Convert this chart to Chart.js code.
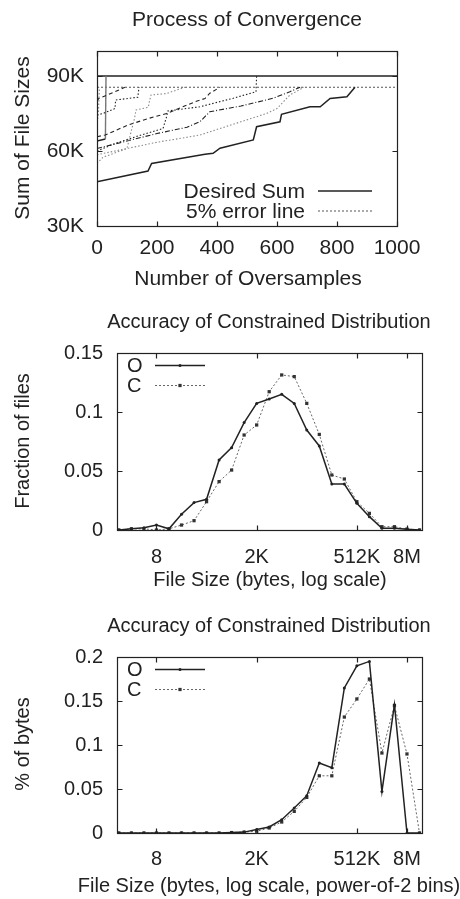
<!DOCTYPE html>
<html>
<head>
<meta charset="utf-8">
<title>Convergence and constrained distribution</title>
<script src="https://cdn.jsdelivr.net/npm/chart.js@4.4.1/dist/chart.umd.min.js"></script>
<style>
  body { margin: 0; background: #fff; width: 460px; height: 899px; overflow: hidden; }
  canvas { position: absolute; left: 0; }
</style>
</head>
<body>
<canvas id="convChart" width="460" height="300" style="top:0"></canvas>
<canvas id="filesChart" width="460" height="300" style="top:300px"></canvas>
<canvas id="bytesChart" width="460" height="299" style="top:600px"></canvas>
<script>
// --- process of convergence: [oversamples, sum of file sizes in K] ---
const desiredSum = 90;
const errorLine = 85.5;
const convTicksY = [30, 60, 90];
const runA = [[0,47.7],[170,52],[182,55],[360,58.7],[387,59.1],[410,61.1],[521,64.4],[532,69.7],[610,71.7],[615,74.7],[710,77.7],[744,77.7],[777,81],[833,81.7],[860,85.5]];
const runB = [[0,64],[28,64.8],[30,90]];
const runC = [[0,65.7],[27,66.4],[104,70.4],[171,73],[232,75],[327,79.7],[360,81],[376,83.1],[410,85.5]];
const runD = [[0,60],[60,63],[150,66.5],[220,69],[232,73.7],[236,76],[343,77.7],[454,81.1],[530,83.7],[532,90]];
const runE = [[0,55],[20,57.5],[100,61],[110,66],[125,73],[130,76.4],[171,77.5],[175,80],[180,82.4],[232,83],[293,85.5]];
const runF = [[0,74.4],[20,75],[60,77],[62,80.4],[136,81.5],[140,85.5]];
const runG = [[0,61],[100,64],[200,67],[300,69.5],[343,71.7],[376,75.7],[480,78],[587,81.1],[643,83.7],[677,85.5]];
const runH = [[0,58.5],[100,61],[200,63.5],[300,65.5],[343,66.4],[410,69],[565,75],[600,77],[643,82.4],[690,85.5]];
const runJ = [[0,80],[6,81],[60,83.7],[93,85.5]];
const runK = [[0,70],[5,76],[8,85.5]];

// --- file size bins (log2 of bytes) ---
const binExp = [0,1,2,3,4,5,6,7,8,9,10,11,12,13,14,15,16,17,18,19,20,21,22,23,24];
const sizeTickExp = [3, 11, 19, 23];
const sizeTickLabels = ['8', '2K', '512K', '8M'];

// fraction of files per bin
const filesO = [0,0.001,0.002,0.0042,0.001,0.0133,0.0232,0.026,0.0593,0.0698,0.091,0.1073,0.111,0.115,0.1073,0.0847,0.0712,0.039,0.039,0.0226,0.0113,0.0014,0.0014,0.0006,0];
const filesC = [0,0.001,0.001,0,0.001,0.0042,0.0079,0.024,0.041,0.0508,0.0805,0.089,0.1172,0.1314,0.13,0.1073,0.081,0.0466,0.0432,0.024,0.0141,0.0028,0.0028,0.0008,0];

// fraction of bytes per bin
const bytesO = [0,0,0,0,0,0,0,0,0,0.0005,0.001,0.004,0.0068,0.0151,0.0284,0.0424,0.0795,0.0742,0.1648,0.19,0.195,0.0473,0.1458,0,0];
const bytesC = [0,0,0,0,0,0,0,0,0,0.0005,0.001,0.002,0.0057,0.0125,0.0246,0.0405,0.065,0.065,0.1318,0.1523,0.175,0.0909,0.1447,0.0898,0];

const ink = '#222';
const grey = '#8a8a8a';
const family = '"Liberation Sans", Arial, sans-serif';
const font1 = '21px ' + family;
const font2 = '20px ' + family;

const pts = arr => arr.map(p => ({ x: p[0], y: p[1] }));
const bins = vals => binExp.map((e, i) => ({ x: e, y: vals[i] }));

// box with inward ticks on all four sides, plus titles and in-plot legend
const gnuplotFrame = {
  id: 'gnuplotFrame',
  afterDatasetsDraw(chart, args, o) {
    const { ctx, chartArea: a, scales: { x, y } } = chart;
    const L = Math.round(a.left) + 0.5, R = Math.round(a.right) + 0.5;
    const T = Math.round(a.top) + 0.5, B = Math.round(a.bottom) + 0.5;
    ctx.save();
    ctx.strokeStyle = ink;
    ctx.lineWidth = 1.2;
    ctx.setLineDash([]);
    ctx.strokeRect(L, T, R - L, B - T);
    ctx.beginPath();
    x.ticks.forEach(t => {
      const px = Math.round(x.getPixelForValue(t.value)) + 0.5;
      ctx.moveTo(px, B); ctx.lineTo(px, B - 5);
      ctx.moveTo(px, T); ctx.lineTo(px, T + 5);
    });
    y.ticks.forEach(t => {
      const py = Math.round(y.getPixelForValue(t.value)) + 0.5;
      ctx.moveTo(L, py); ctx.lineTo(L + 5, py);
      ctx.moveTo(R, py); ctx.lineTo(R - 5, py);
    });
    ctx.stroke();

    ctx.fillStyle = ink;
    ctx.font = o.font;
    ctx.textAlign = 'center';
    ctx.textBaseline = 'alphabetic';
    ctx.fillText(o.title, o.titleAt[0], o.titleAt[1]);
    ctx.fillText(o.xTitle, o.xTitleAt[0], o.xTitleAt[1]);
    ctx.save();
    ctx.translate(o.yTitleAt[0], o.yTitleAt[1]);
    ctx.rotate(-Math.PI / 2);
    ctx.textBaseline = 'middle';
    ctx.fillText(o.yTitle, 0, 0);
    ctx.restore();

    o.legend.forEach(k => {
      const ds = chart.data.datasets[k.index];
      ctx.fillStyle = ink;
      ctx.textAlign = k.align;
      ctx.fillText(ds.label, k.tx, k.ty);
      ctx.beginPath();
      ctx.strokeStyle = ds.borderColor;
      ctx.lineWidth = ds.borderWidth;
      ctx.setLineDash(ds.borderDash || []);
      ctx.moveTo(k.x0, k.ly);
      ctx.lineTo(k.x1, k.ly);
      ctx.stroke();
      if (ds.pointRadius) {
        ctx.setLineDash([]);
        ctx.fillStyle = ds.pointBackgroundColor;
        ctx.strokeStyle = ds.pointBorderColor;
        Chart.helpers.drawPoint(ctx, {
          pointStyle: ds.pointStyle, radius: ds.pointRadius, borderWidth: 0, rotation: 0
        }, (k.x0 + k.x1) / 2, k.ly);
      }
    });
    ctx.restore();
  }
};

function run(data, color, dash, width) {
  return {
    data: pts(data), borderColor: color, borderWidth: width || 1.1,
    borderDash: dash, pointRadius: 0, fill: false
  };
}

new Chart(document.getElementById('convChart'), {
  type: 'line',
  data: {
    datasets: [
      run(runH, grey, [1.5, 2]),
      run(runE, grey, [1.5, 2]),
      run(runK, grey, [1.5, 2]),
      run(runG, ink, [5, 2, 1, 2]),
      run(runD, ink, [1.5, 2]),
      run(runF, ink, [1.5, 2]),
      run(runC, ink, [4, 3]),
      run(runJ, ink, [4, 3]),
      { ...run(runB, ink, [], 1.4), segment: { borderColor: c => c.p1DataIndex === 2 ? '#777' : undefined } },
      run(runA, ink, [], 1.5),
      { label: 'Desired Sum', data: [{ x: 0, y: desiredSum }, { x: 1000, y: desiredSum }],
        borderColor: ink, borderWidth: 1.3, pointRadius: 0 },
      { label: '5% error line', data: [{ x: 0, y: errorLine }, { x: 1000, y: errorLine }],
        borderColor: '#555', borderWidth: 1, borderDash: [2, 2], pointRadius: 0 }
    ]
  },
  options: {
    responsive: false,
    animation: false,
    layout: { padding: { top: 51, right: 63, left: 0, bottom: 0 } },
    scales: {
      x: {
        type: 'linear', min: 0, max: 1000,
        grid: { display: false, drawTicks: false }, border: { display: false },
        ticks: { stepSize: 200, autoSkip: false, maxRotation: 0, padding: 10, color: ink,
                 font: { family, size: 21 }, callback: v => String(v) },
        afterFit: s => { s.height = 74; }
      },
      y: {
        min: 30, max: 100,
        grid: { display: false, drawTicks: false }, border: { display: false },
        afterBuildTicks: s => { s.ticks = convTicksY.map(v => ({ value: v })); },
        ticks: { padding: 13, color: ink, font: { family, size: 21 }, callback: v => v + 'K' },
        afterFit: s => { s.width = 97; }
      }
    },
    plugins: {
      legend: { display: false },
      tooltip: { enabled: false },
      gnuplotFrame: {
        font: font1,
        title: 'Process of Convergence', titleAt: [247, 26],
        xTitle: 'Number of Oversamples', xTitleAt: [248, 285],
        yTitle: 'Sum of File Sizes', yTitleAt: [23, 138],
        legend: [
          { index: 10, align: 'right', tx: 305, ty: 198, x0: 318, x1: 372, ly: 191 },
          { index: 11, align: 'right', tx: 305, ty: 218, x0: 318, x1: 372, ly: 211 }
        ]
      }
    }
  },
  plugins: [gnuplotFrame]
});

function sizeChart(id, o, c, yMax, plotTop, plotBottom, labelPad, yTitle, xTitle, texts) {
  const h = document.getElementById(id).height;
  return new Chart(document.getElementById(id), {
    type: 'line',
    data: {
      datasets: [
        { label: 'O', data: bins(o), borderColor: ink, borderWidth: 1.5,
          pointStyle: 'circle', pointRadius: 1.5, pointBackgroundColor: ink, pointBorderColor: ink, pointBorderWidth: 0 },
        { label: 'C', data: bins(c), borderColor: '#666', borderWidth: 1, borderDash: [2, 2],
          pointStyle: 'rect', pointRadius: 2.3, pointBackgroundColor: '#333', pointBorderColor: '#333', pointBorderWidth: 0 }
      ]
    },
    options: {
      responsive: false,
      animation: false,
      layout: { padding: { top: plotTop, right: 38, left: 0, bottom: 0 } },
      scales: {
        x: {
          type: 'linear', min: -0.15, max: 24.2,
          grid: { display: false, drawTicks: false }, border: { display: false },
          afterBuildTicks: s => { s.ticks = sizeTickExp.map(v => ({ value: v })); },
          ticks: { autoSkip: false, maxRotation: 0, padding: labelPad, color: ink, font: { family, size: 20 },
                   callback: (v, i) => sizeTickLabels[i] },
          afterFit: s => { s.height = h - plotBottom; }
        },
        y: {
          min: 0, max: yMax,
          grid: { display: false, drawTicks: false }, border: { display: false },
          ticks: { stepSize: 0.05, padding: 14, color: ink, font: { family, size: 20 },
                   callback: v => String(+v.toFixed(2)) },
          afterFit: s => { s.width = 117; }
        }
      },
      plugins: {
        legend: { display: false },
        tooltip: { enabled: false },
        gnuplotFrame: Object.assign({ font: font2, yTitle, xTitle }, texts)
      }
    },
    plugins: [gnuplotFrame]
  });
}

sizeChart('filesChart', filesO, filesC, 0.15, 53, 230, 15, 'Fraction of files', 'File Size (bytes, log scale)', {
  title: 'Accuracy of Constrained Distribution', titleAt: [269, 28],
  xTitleAt: [270, 286], yTitleAt: [23, 141],
  legend: [
    { index: 0, align: 'left', tx: 127, ty: 72, x0: 155, x1: 205, ly: 65.5 },
    { index: 1, align: 'left', tx: 127, ty: 92, x0: 155, x1: 205, ly: 85.5 }
  ]
});

sizeChart('bytesChart', bytesO, bytesC, 0.2, 57, 233, 14, '% of bytes', 'File Size (bytes, log scale, power-of-2 bins)', {
  title: 'Accuracy of Constrained Distribution', titleAt: [269, 32],
  xTitleAt: [269, 292], yTitleAt: [23, 144],
  legend: [
    { index: 0, align: 'left', tx: 127, ty: 76, x0: 155, x1: 205, ly: 69.5 },
    { index: 1, align: 'left', tx: 127, ty: 96, x0: 155, x1: 205, ly: 89.5 }
  ]
});
</script>
</body>
</html>
